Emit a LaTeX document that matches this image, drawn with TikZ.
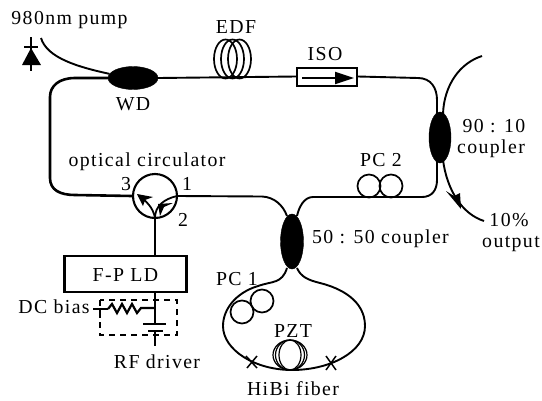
\documentclass[tikz,border=0pt]{standalone}
\usepackage{fontspec}
\setmainfont[LetterSpace=7]{Liberation Serif}
\usetikzlibrary{shapes.geometric,arrows.meta,decorations.markings}
\tikzset{
  lbl/.style={inner sep=0pt,font=\fontsize{19.8}{22}\selectfont,text=black},
  fib/.style={line width=1.9pt},
  thick fib/.style={line width=2.6pt},
  cpl/.style={ellipse,fill=black,draw=black,inner sep=0pt},
  loopc/.style={line width=1.7pt},
  box/.style={draw,line width=2.4pt,fill=white,inner sep=0pt},
}
\begin{document}
\begin{tikzpicture}[x=1pt,y=-1pt]
\useasboundingbox (0,0) rectangle (542,400);
% couplers
\node[cpl,minimum width=50pt,minimum height=23pt] (wd) at (133,78) {};
\node[cpl,minimum width=22pt,minimum height=51pt] (c90) at (440,137.5) {};
\node[cpl,minimum width=23pt,minimum height=55pt] (c50) at (292,241.5) {};
% way points
\coordinate (pumpend) at (41,38);
\coordinate (tapin) at (482,56);
\coordinate (tapout) at (484,221);
% circulator and boxes
\node[draw,circle,line width=2.1pt,minimum size=44pt,inner sep=0pt] (circ) at (155,196) {};
\node[box,minimum width=60pt,minimum height=18pt,line width=2pt] (iso) at (327,76.5) {};
\node[box,minimum width=122pt,minimum height=36pt] (ld) at (125.5,274) {};
\node[lbl] at (125.5,275) {F-P LD};
% fibre ring
\draw[fib] (wd.east) -- (iso.west);
\draw[fib] (iso.east) -- (418,78) .. controls (431,78) and (437,88) .. (437,100) -- (437,114);
\draw[fib] (443,114) .. controls (444,85) and (460,63) .. (tapin);
\draw[fib] (437,160) -- (437,180) .. controls (437,190) and (432,197) .. (422,197) -- (313,197) .. controls (304,197) and (299,207) .. (297,216);
\draw[thick fib] (wd.west) -- (75,78) .. controls (59,78) and (50,86) .. (50,97) -- (50,178) .. controls (50,190) and (60,195) .. (75,195) -- (circ.west);
\draw[fib] (circ.east) -- (262,196.5) .. controls (274,197) and (283,205) .. (287,216);
\draw[fib] (443,160) .. controls (447,190) and (462,214) .. (tapout);
\fill (446,191) -- (454,196) -- (460,193) -- (461,209) -- cycle;
\draw[fib] (pumpend) .. controls (47,58) and (78,67) .. (wd.170);
% sagnac loop
\draw[fib] (287,268) .. controls (282,284) and (272,281) .. (258,286) .. controls (235,293) and (223,310) .. (223,326) .. controls (223,350) and (255,370) .. (292,370) .. controls (330,370) and (365,352) .. (365,326) .. controls (365,300) and (340,288) .. (320,283) .. controls (308,280) and (301,277) .. (297,268);
% diode
\draw[line width=2pt] (31,37) -- (31,71) (24,47) -- (38,47);
\fill (31,48) -- (41,65) -- (22,65) -- cycle;
% EDF
\foreach \cx in {225.5,232.5,239.5}
  \draw[loopc] (\cx,59) ellipse (11.5 and 19.5);
% ISO arrow
\draw[line width=2.2pt,-{Triangle[length=19pt,width=12pt]}] (302,78) -- (354,78);
% PC2
\node[draw,circle,loopc,minimum size=23pt,inner sep=0pt] (pc2a) at (369,186) {};
\node[draw,circle,loopc,minimum size=23pt,inner sep=0pt] (pc2b) at (391,186) {};
% PC1
\node[draw,circle,loopc,minimum size=23pt,inner sep=0pt] (pc1a) at (242,312) {};
\node[draw,circle,loopc,minimum size=23pt,inner sep=0pt] (pc1b) at (262,301) {};
% PZT
\draw[line width=1.2pt] (290,355) ellipse (17 and 15);
\draw[line width=1.2pt] (290,355) ellipse (14.5 and 15);
\draw[line width=1.2pt] (290,355) ellipse (11 and 15);
% splices
\draw[line width=1.5pt] (246,356) -- (257,368) (257,356) -- (247,368);
\draw[line width=1.5pt] (326,356) -- (336,370) (336,356) -- (326,370);
% circulator internals
\draw[line width=1.8pt] (155,218) .. controls (153,207) and (146,201) .. (139,196);
\draw[line width=1.8pt] (155,218) .. controls (155,206) and (164,199) .. (177,196);
\fill (137,194) -- (153,197) -- (145,200) -- (143,206) -- cycle;
\fill (158,204) -- (173,203) -- (164,207) -- (160,216) -- cycle;
\draw[thick fib] (155,218) -- (155,256);
% driver circuit
\coordinate (ldbot) at (155,292);
\coordinate (rsum) at (155,308);
\coordinate (plateA) at (155,324);
\coordinate (plateB) at (155,331);
\coordinate (rfend) at (155,346);
\draw[line width=1.7pt] (ldbot) -- (plateA) (plateB) -- (rfend);
\draw[line width=2pt] (143,324) -- (166,324) (148,331) -- (163,331);
\draw[line width=2.2pt] (rsum) -- (141,308) -- (137,313) -- (132,304) -- (127,313) -- (122,304) -- (117,313) -- (112,304) -- (108,309);
\draw[line width=1.6pt] (93,309) -- (108,309) (100,309) -- (100,318);
\draw[line width=2.2pt,dash pattern=on 6pt off 5pt] (100,300) rectangle (177,335);
% labels
\node[lbl] at (69.5,20) {980nm pump};
\node[lbl] at (236,27) {EDF};
\node[lbl] at (325,54) {ISO};
\node[lbl] at (133,104) {WD};
\node[lbl] at (147,162) {optical circulator};
\node[lbl] at (126,184) {3};
\node[lbl] at (187,184) {1};
\node[lbl] at (183,220) {2};
\node[lbl] at (381,160) {PC 2};
\node[lbl] at (494,126) {90 : 10};
\node[lbl] at (491,149) {coupler};
\node[lbl] at (380.5,239) {50 : 50 coupler};
\node[lbl] at (509,220) {10\%};
\node[lbl] at (511,244) {output};
\node[lbl] at (237,279) {PC 1};
\node[lbl] at (293,331) {PZT};
\node[lbl] at (293,389) {HiBi fiber};
\node[lbl] at (54,307) {DC bias};
\node[lbl] at (157,362) {RF driver};
\end{tikzpicture}
\end{document}
